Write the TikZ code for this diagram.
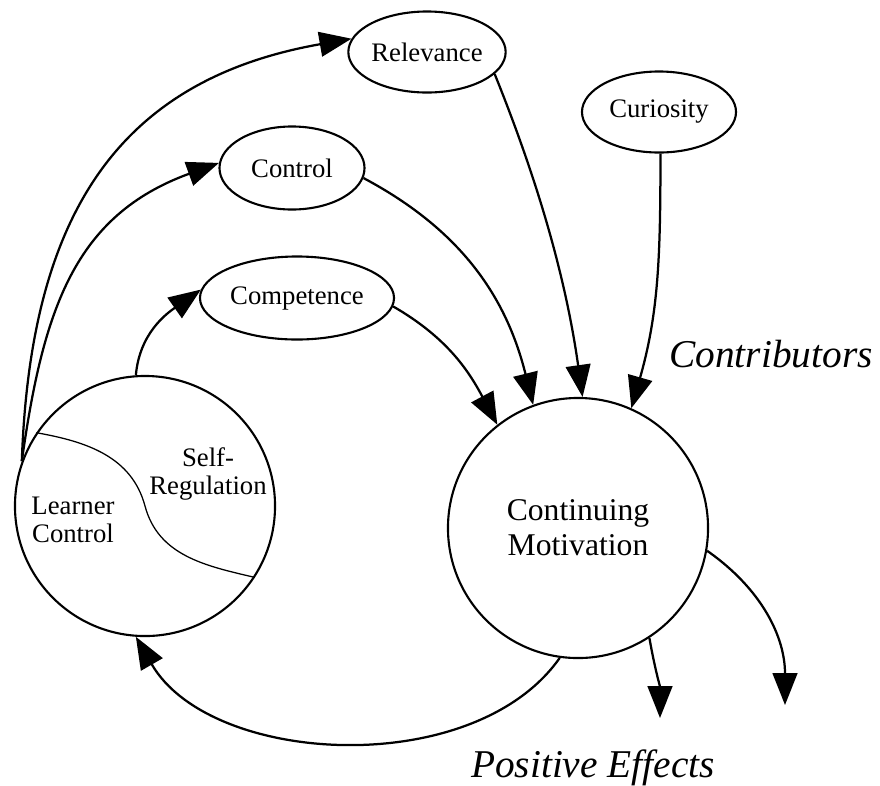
\documentclass[tikz,border=0pt]{standalone}
\usepackage{fontspec}
\setmainfont{Liberation Serif}
\usepackage{xcolor}
\usepackage{tikz}
\usetikzlibrary{shapes,arrows.meta}

\begin{document}
\begin{tikzpicture}[x=0.025cm, y=0.025cm,
    factor/.style={ellipse, draw, line width=1.5pt, inner sep=0pt, font=\fontsize{19}{20}\selectfont},
    hub/.style={circle, draw, line width=1.5pt, minimum size=6.5cm, inner sep=0pt},
    inside/.style={align=center, font=\fontsize{19}{19.5}\selectfont},
    link/.style={-{Triangle[length=0.8cm, width=0.62cm]}, line width=1.6pt},
    tag/.style={anchor=base, font=\fontsize{28}{30}\selectfont\itshape}]
    \useasboundingbox (0,0) rectangle (880,-785);

    \node (learner) [hub] at (145,-506) {};
    \node (motivation) [hub, align=center, font=\fontsize{22.5}{25}\selectfont] at (578,-528) {Continuing\\Motivation};

    \node (relevance) [factor, minimum width=3.875cm, minimum height=2.025cm] at (427,-52) {Relevance};
    \node (curiosity) [factor, minimum width=3.85cm, minimum height=2.025cm] at (659,-112) {Curiosity};
    \node (control) [factor, minimum width=3.625cm, minimum height=2.075cm] at (292,-168) {Control};
    \node (competence) [factor, minimum width=4.85cm, minimum height=2.075cm] at (297,-298) {Competence};

    % split of the learner circle
    \draw [line width=0.9pt] (learner.146) to[out=-10, in=105] (learner.center) to[out=-75, in=167] (learner.-33);
    \node (learnerctl) [inside] at (73,-520) {Learner\\Control};
    \node (selfreg) [inside] at (208,-474) {Self-\\Regulation};

    \draw [link] (learner.160) to[out=88, in=190, looseness=1.15] (relevance.170);
    \draw [link] (learner.160) to[out=82, in=200, looseness=1.1] (control.176);
    \draw [link] (learner.94) to[out=85, in=215] (competence.175);

    \draw [link] (competence.-5) to[out=-30, in=118] (motivation.128);
    \draw [link] (control.-8) to[out=-28, in=104] (motivation.110);
    \draw [link] (relevance.-18) to[out=-68, in=98, looseness=0.9] (motivation.88);
    \draw [link] (curiosity.-88) to[out=-90, in=74] (motivation.66);

    \draw [link] (motivation.262) to[out=235, in=-60, looseness=0.9] (learner.266);

    \coordinate (effecta) at (660,-718);
    \coordinate (effectb) at (785,-705);
    \draw [link] (motivation.-57) to[out=-80, in=90] (effecta);
    \draw [link] (motivation.-10) to[out=-35, in=90] (effectb);

    \node (contrib) [tag] at (771,-367) {Contributors};
    \node (effects) [tag] at (593,-777) {Positive Effects};
\end{tikzpicture}
\end{document}
